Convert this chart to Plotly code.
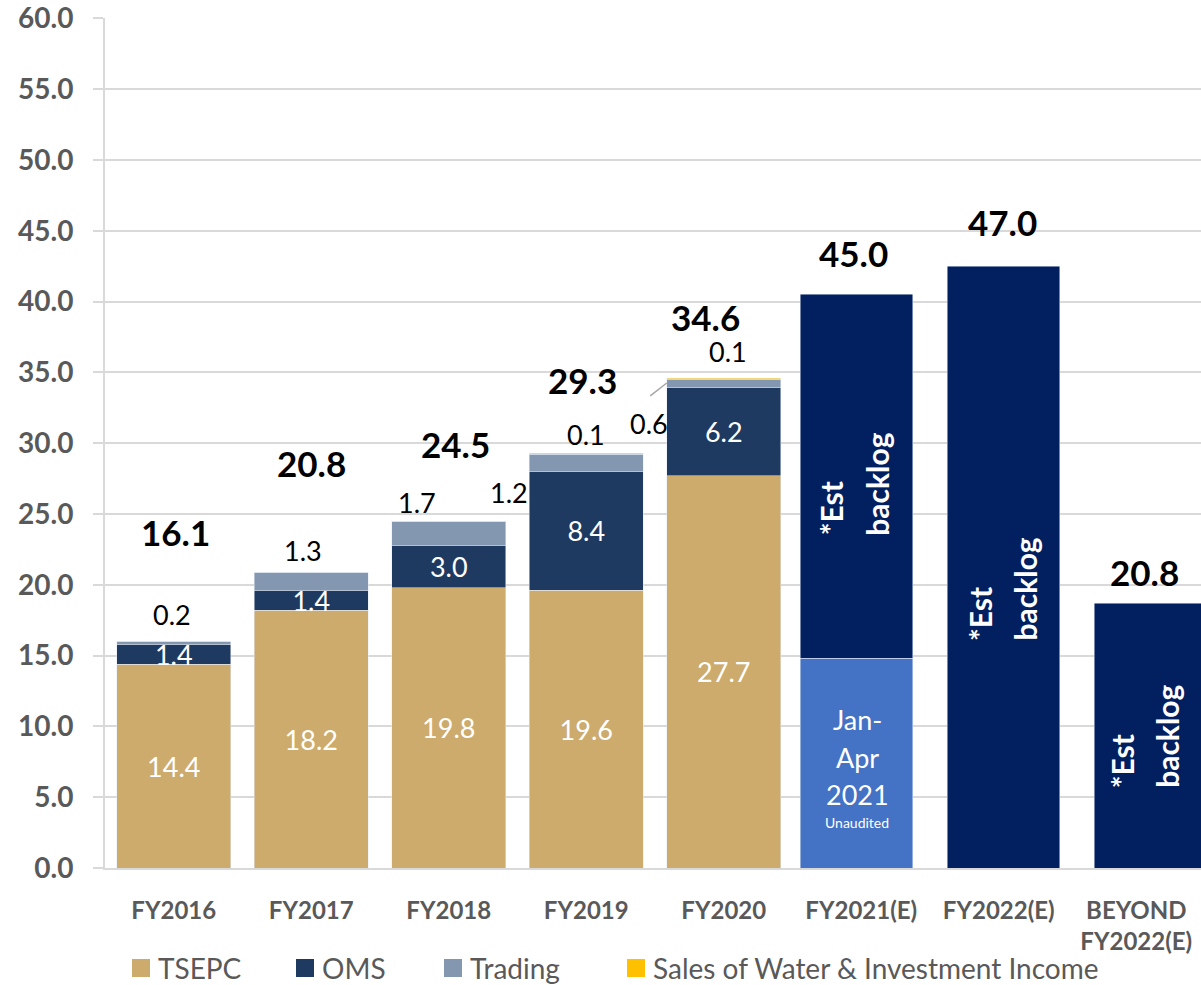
import plotly.graph_objects as go

# ---------------- data ----------------
categories = ["FY2016", "FY2017", "FY2018", "FY2019", "FY2020",
              "FY2021(E)", "FY2022(E)", "BEYOND<br>FY2022(E)"]
hist_cats = categories[:5]
tsepc = [14.4, 18.2, 19.8, 19.6, 27.7]
oms = [1.4, 1.4, 3.0, 8.4, 6.2]
trading = [0.2, 1.3, 1.7, 1.2, 0.6]
water = [0.0, 0.0, 0.0, 0.1, 0.1]
hist_totals = [16.1, 20.8, 24.5, 29.3, 34.6]

janapr_cat = ["FY2021(E)"]
janapr = [14.8]
est_cats = ["FY2021(E)", "FY2022(E)", "BEYOND<br>FY2022(E)"]
backlog = [25.7, 42.5, 18.7]
est_totals = [45.0, 47.0, 20.8]

series_names = ["TSEPC", "OMS", "Trading", "Sales of Water & Investment Income"]

# ---------------- style ----------------
FONT = "Lato"
GREY = "#595959"
C_TSEPC = "#CCAB6D"
C_OMS = "#1F3A60"
C_TRADING = "#8497B0"
C_WATER = "#FFC000"
C_JANAPR = "#4472C4"
C_BACKLOG = "#02205F"
series_colors = [C_TSEPC, C_OMS, C_TRADING, C_WATER]
BW = 0.83
BW2 = 0.82

PLOT_L, PLOT_R, PLOT_T, PLOT_B = 105, 1201, 18, 868
PLOT_W = PLOT_R - PLOT_L
PLOT_H = PLOT_B - PLOT_T
CAT_W = 137.5
x_hi = -0.5 + PLOT_W / CAT_W


def px_x(px):
    return (px - PLOT_L) / PLOT_W


def px_y(py):
    return (PLOT_B - py) / PLOT_H


fig = go.Figure()

fig.add_trace(go.Bar(
    x=hist_cats, y=tsepc, name=series_names[0], marker_color=C_TSEPC, width=BW,
    text=[f"{v:.1f}" for v in tsepc], textposition="inside",
    insidetextanchor="middle", textangle=0, constraintext="none",
    textfont=dict(family=FONT, size=27, color="white")))
fig.add_trace(go.Bar(
    x=hist_cats, y=oms, name=series_names[1], marker_color=C_OMS, width=BW,
    text=[f"{v:.1f}" for v in oms], textposition="inside",
    insidetextanchor="middle", textangle=0, constraintext="none",
    textfont=dict(family=FONT, size=27, color="white")))
fig.add_trace(go.Bar(
    x=hist_cats, y=trading, name=series_names[2], marker_color=C_TRADING,
    width=BW))
fig.add_trace(go.Bar(
    x=hist_cats, y=water, name=series_names[3],
    marker_color=C_WATER, width=BW))

fig.add_trace(go.Bar(
    x=janapr_cat, y=janapr, name="Jan-Apr 2021", marker_color=C_JANAPR,
    width=BW2, offset=[-0.4445]))
fig.add_trace(go.Bar(
    x=est_cats, y=backlog, name="Est backlog", marker_color=C_BACKLOG,
    width=BW2, offset=[-0.4445, -0.3755, -0.307]))

ann = []


def label(x, y, text, size, color="black", bold=False, xs=0, ys=0, **kw):
    d = dict(x=x, y=y, text=text, showarrow=False, xshift=xs, yshift=ys,
             font=dict(family=FONT, size=size, color=color,
                       weight="bold" if bold else "normal"))
    d.update(kw)
    ann.append(d)


# totals and small outside labels for historical years
hist_tops = [a + b + c + d for a, b, c, d in zip(tsepc, oms, trading, water)]
tot_shift = [(2, 109), (0, 109), (7, 77), (-4, 72.6), (-18, 61.5)]
for cat, top, tot, (xs, ys) in zip(hist_cats, hist_tops, hist_totals, tot_shift):
    label(cat, top, f"{tot:.1f}", 35, bold=True, xs=xs, ys=ys)

trade_shift = [(-2, 27), (-8, 22), (-32, 19), (-77, -39), (-75, -45)]
for cat, top, v, (xs, ys) in zip(hist_cats, hist_tops, trading, trade_shift):
    label(cat, top, f"{v:.1f}", 27, xs=xs, ys=ys)

water_shift = {3: (0, 19), 4: (4, 27)}
for i, (xs, ys) in water_shift.items():
    label(hist_cats[i], hist_tops[i], f"{water[i]:.1f}", 27, xs=xs, ys=ys)

# leader line for FY2020 trading label
ann.append(dict(x=hist_cats[4], y=hist_tops[4], xshift=-57, yshift=-5,
                text="", showarrow=True, arrowhead=0, arrowwidth=1.5,
                arrowcolor="#A6A6A6", ax=-18, ay=14, standoff=0))

# estimated totals
est_tops = [janapr[0] + backlog[0], backlog[1], backlog[2]]
est_shift = [(-8, 41.5), (4, 44), (8, 31.5)]
for cat, top, tot, (xs, ys) in zip(est_cats, est_tops, est_totals, est_shift):
    label(cat, top, f"{tot:.1f}", 35, bold=True, xs=xs, ys=ys)

# rotated "*Est backlog" texts
seg_centers = [janapr[0] + backlog[0] / 2, backlog[1] / 2, backlog[2] / 2]
rot_shift = [(-29.5, 15.5, -61), (-18.75, 26.25, -76), (-14, 30, -54.5)]
for cat, c, (x1, x2, ys) in zip(est_cats, seg_centers, rot_shift):
    label(cat, c, "*Est", 30, color="white", bold=True, xs=x1, ys=ys,
          textangle=-90, yanchor="bottom")
    label(cat, c, "backlog", 30, color="white", bold=True, xs=x2, ys=ys,
          textangle=-90, yanchor="bottom")

# Jan-Apr 2021 text
jc = janapr[0] / 2
for txt, ys in [("Jan-", 44), ("Apr", 6), ("2021", -31)]:
    label(janapr_cat[0], jc, txt, 27, color="white", xs=-4, ys=ys)
label(janapr_cat[0], jc, "Unaudited", 14, color="white", xs=-4, ys=-59)

# ---------------- legend (drawn as swatches + text) ----------------
LEG_Y = 968          # pixel centre line of legend row
SW = 18              # swatch size in px
leg_swatch_left = [132, 296, 444, 627]
shapes = []
for name, col, sx in zip(series_names, series_colors, leg_swatch_left):
    shapes.append(dict(type="rect", xref="paper", yref="paper",
                       x0=px_x(sx), x1=px_x(sx + SW),
                       y0=px_y(LEG_Y + SW / 2), y1=px_y(LEG_Y - SW / 2),
                       fillcolor=col, line=dict(width=0)))
    ann.append(dict(xref="paper", yref="paper", x=px_x(sx + SW + 6),
                    y=px_y(LEG_Y), xanchor="left", yanchor="middle",
                    text=name, showarrow=False,
                    font=dict(family=FONT, size=28, color=GREY)))

fig.update_layout(annotations=ann, shapes=shapes)

# ---------------- layout ----------------
fig.update_layout(
    width=1201, height=985,
    margin=dict(l=PLOT_L, r=1201 - PLOT_R, t=PLOT_T, b=985 - PLOT_B,
                autoexpand=False),
    barmode="stack",
    bargap=1 - BW,
    showlegend=False,
    plot_bgcolor="white", paper_bgcolor="white",
    font=dict(family=FONT, color=GREY),
    xaxis=dict(
        type="category", categoryorder="array", categoryarray=categories,
        range=[-0.5, x_hi], showgrid=False, showline=True,
        linecolor="#D9D9D9", linewidth=2, ticks="",
        ticklabelstandoff=20,
        tickfont=dict(family=FONT, size=24, color=GREY, weight="bold"),
    ),
    yaxis=dict(
        range=[0, 60.02], tickvals=[v * 5 for v in range(13)], tickformat=".1f",
        showgrid=True, gridcolor="#D9D9D9", gridwidth=1.5,
        showline=True, linecolor="#D9D9D9", linewidth=2,
        ticks="outside", ticklen=10, tickcolor="#D9D9D9", tickwidth=1.5,
        ticklabelstandoff=14, zeroline=False,
        tickfont=dict(family=FONT, size=28, color=GREY, weight="bold"),
    ),
)

fig.write_html("out.html")
